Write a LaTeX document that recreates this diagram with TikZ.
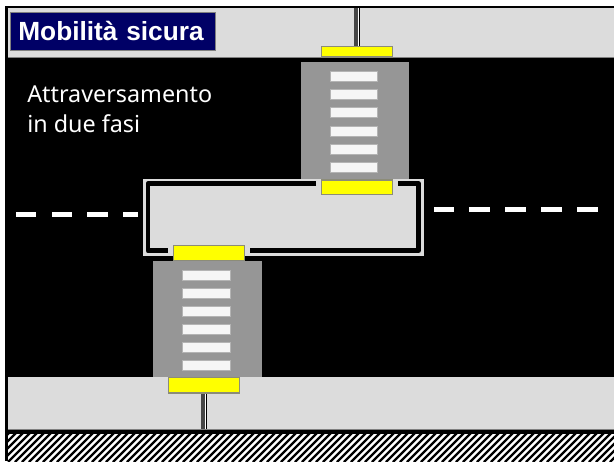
\documentclass[tikz,border=0pt]{standalone}
\usepackage{fontspec}
\setmainfont{Liberation Sans}
\newfontfamily\bodyfont{Noto Sans}
\definecolor{bandgray}{RGB}{220,220,220}
\definecolor{crossgray}{RGB}{150,150,150}
\definecolor{stripewhite}{RGB}{246,246,246}
\definecolor{stripeedge}{RGB}{180,180,180}
\definecolor{kerbedge}{RGB}{140,140,120}
\definecolor{kerbyellow}{RGB}{255,255,0}
\definecolor{navybox}{RGB}{0,0,102}
\definecolor{poledark}{RGB}{70,70,70}
\tikzset{
  x=0.75pt,y=-0.75pt,
  band/.style={fill=bandgray,draw=none},
  crossing/.style={fill=crossgray,draw=none},
  stripe/.style={fill=stripewhite,draw=stripeedge,line width=0.75pt},
  kerb/.style={fill=kerbyellow,draw=kerbedge,line width=0.9pt},
  dashline/.style={fill=white,draw=none},
  frameline/.style={draw=black,line width=3.6pt,line cap=butt,line join=round},
}
\begin{document}
\begin{tikzpicture}
\useasboundingbox (0,0) rectangle (614,461);
\fill[white] (0,0) rectangle (614,461);
% road and outer border
\fill[black] (5,6) rectangle (614,434);
\fill[black] (5,434) rectangle (7.5,461);
% sidewalks
\fill[band] (8,8) rectangle (614,57);
\draw[draw=gray,line width=0.75pt] (8,57.3) -- (614,57.3);
\fill[band] (8,377) rectangle (614,429);
\draw[draw=gray,line width=0.75pt] (8,429) -- (614,429);
% hatching
\begin{scope}
\clip (7.5,434) rectangle (614,461);
\fill[white] (7.5,434) rectangle (614,461);
\foreach \h in {-27,-20,...,640}{
  \draw[black,line width=1.7pt] (\h,462) -- ++(29,-29);
}
\end{scope}
% title
\node[fill=navybox,draw=gray,line width=0.5pt,text width=141.75pt,align=left,minimum height=28.5pt,inner xsep=6pt,inner ysep=0pt,anchor=north west,text=white,font=\bfseries\fontsize{19.7}{21}\selectfont] (title) at (10,12) {Mobilità sicura};
% text
\node[anchor=base west,inner sep=0pt,text=white,font=\bodyfont\fontsize{17.5}{18}\selectfont] (l1) at (27,102) {Attraversamento};
\node[anchor=base west,inner sep=0pt,text=white,font=\bodyfont\fontsize{17.5}{18}\selectfont] (l2) at (27,132) {in due fasi};
% poles
\fill[poledark] (354,8) rectangle (358.3,46);
\fill[white] (358.3,8) rectangle (359,46);
\fill[black] (359,8) rectangle (360,46);
\fill[poledark] (201,393) rectangle (204.5,429);
\fill[white] (204.5,393) rectangle (205.5,429);
\fill[black] (205.5,393) rectangle (207,429);
% crossings
\fill[crossing] (301,62) rectangle (409,180);
\fill[crossing] (153,261) rectangle (262,377);
\foreach \y in {71,89,107,126,144,162}{
  \draw[stripe] (330,\y) rectangle (377.5,\y+10);
}
\foreach \y in {270,288,306,324,342,360}{
  \draw[stripe] (182,\y) rectangle (230,\y+10);
}
% island
\fill[bandgray] (143,179) rectangle (424,256);
\draw[frameline] (316,183.8) -- (148,183.8) -- (148,250.6) -- (168,250.6);
\draw[frameline] (398,183.8) -- (418.6,183.8) -- (418.6,250.6) -- (250,250.6);
% kerbs
\draw[kerb] (321.5,46.5) rectangle (392.5,57);
\draw[kerb] (321.5,180) rectangle (392.5,194.5);
\draw[kerb] (173.5,245.5) rectangle (244.5,260.5);
\draw[kerb] (168.5,377.5) rectangle (239.5,393);
% centre lines
\foreach \a/\b in {16/36,52/72,87/108,123/138}{
  \fill[dashline] (\a,212) rectangle (\b,217);
}
\foreach \a/\b in {434/454,469/490,505/526,541/562,577/598}{
  \fill[dashline] (\a,207) rectangle (\b,212);
}
\end{tikzpicture}
\end{document}
